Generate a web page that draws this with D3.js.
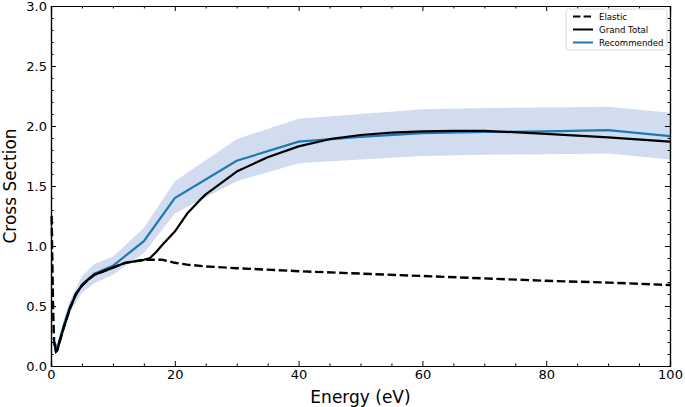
<!DOCTYPE html>
<html>
<head>
<meta charset="utf-8">
<script src="https://cdn.jsdelivr.net/npm/d3@7"></script>
<style>
  body { margin: 0; background: #fff; }
  svg { display: block; font-family: "DejaVu Sans", sans-serif; }
</style>
</head>
<body>
<svg id="chart" width="685" height="407"></svg>
<script>
// ---- Data ----
const elasticE = [0.1, 0.2, 0.35, 0.5, 0.8, 1, 2, 3, 4, 5, 6, 7, 8, 10, 12, 15, 18, 20, 22, 25, 30, 40, 50, 60, 70, 80, 90, 100];
const elasticV = [1.25, 0.9, 0.45, 0.2, 0.12, 0.13, 0.31, 0.47, 0.6, 0.67, 0.72, 0.76, 0.78, 0.82, 0.86, 0.885, 0.885, 0.86, 0.845, 0.83, 0.815, 0.79, 0.77, 0.75, 0.73, 0.71, 0.695, 0.675];

const totalE = [0.5, 0.8, 1, 2, 3, 4, 5, 6, 7, 8, 10, 12, 15, 16, 17, 18, 20, 22, 24, 25, 30, 35, 40, 45, 50, 55, 60, 65, 70, 80, 90, 100];
const totalV = [0.2, 0.12, 0.13, 0.31, 0.47, 0.6, 0.67, 0.72, 0.76, 0.78, 0.82, 0.86, 0.885, 0.9, 0.95, 1.01, 1.12, 1.27, 1.38, 1.43, 1.62, 1.74, 1.83, 1.89, 1.925, 1.945, 1.955, 1.96, 1.96, 1.935, 1.905, 1.87];

const recE = [0.5, 1, 2, 3, 5, 7, 10, 15, 20, 30, 40, 50, 60, 70, 80, 90, 100];
const recV = [0.2, 0.15, 0.33, 0.49, 0.68, 0.77, 0.835, 1.04, 1.40, 1.71, 1.87, 1.91, 1.94, 1.95, 1.955, 1.965, 1.915];
const recUpper = [0.22, 0.17, 0.36, 0.54, 0.75, 0.85, 0.91, 1.15, 1.54, 1.89, 2.06, 2.10, 2.14, 2.15, 2.155, 2.16, 2.11];
const recLower = [0.18, 0.13, 0.30, 0.44, 0.61, 0.69, 0.76, 0.94, 1.27, 1.54, 1.69, 1.72, 1.75, 1.76, 1.765, 1.77, 1.72];

const xMajorTicks = [0, 20, 40, 60, 80, 100];
const yMajorTicks = [0.0, 0.5, 1.0, 1.5, 2.0, 2.5, 3.0];
const legendLabels = ["Elastic", "Grand Total", "Recommended"];

// ---- Layout ----
const W = 685, H = 407;
const m = { left: 51, right: 15, top: 6, bottom: 41 };
const iw = W - m.left - m.right, ih = H - m.top - m.bottom;

const svg = d3.select("#chart");
const g = svg.append("g").attr("transform", `translate(${m.left},${m.top})`);

const x = d3.scaleLinear().domain([0, 100]).range([0, iw]);
const y = d3.scaleLinear().domain([0, 3]).range([ih, 0]);

svg.append("defs").append("clipPath").attr("id", "clip")
  .append("rect").attr("x", -2).attr("width", iw + 2).attr("height", ih);

const plot = g.append("g").attr("clip-path", "url(#clip)");

// band
const band = recE.map((e, i) => ({ e, lo: recLower[i], hi: recUpper[i] }));
plot.append("path").datum(band)
  .attr("fill", "#d1dcef")
  .attr("d", d3.area().x(d => x(d.e)).y0(d => y(d.lo)).y1(d => y(d.hi)));

const line = d3.line().x(d => x(d[0])).y(d => y(d[1]));

plot.append("path").datum(recE.map((e, i) => [e, recV[i]]))
  .attr("fill", "none").attr("stroke", "#1f77b4").attr("stroke-width", 2.2)
  .attr("d", line);

plot.append("path").datum(totalE.map((e, i) => [e, totalV[i]]))
  .attr("fill", "none").attr("stroke", "#000").attr("stroke-width", 2.2)
  .attr("stroke-linejoin", "round")
  .attr("d", line);

plot.append("path").datum(elasticE.map((e, i) => [e, elasticV[i]]))
  .attr("fill", "none").attr("stroke", "#000").attr("stroke-width", 2.4)
  .attr("stroke-dasharray", "8.5,3.6")
  .attr("d", line);

// ---- Axes (ticks inside, all four sides) ----
const fmtY = d3.format(".1f");
const xMinor = d3.range(0, 100.01, 5).filter(v => v % 20 !== 0);
const yMinor = d3.range(0, 30.01, 1).map(v => v / 10).filter(v => Math.round(v * 10) % 5 !== 0);

function styleAxis(sel) {
  sel.selectAll("path.domain").attr("stroke", "#000").attr("stroke-width", 1.2);
  sel.selectAll(".tick line").attr("stroke", "#000").attr("stroke-width", 1);
  sel.selectAll(".tick text").attr("font-size", 13).attr("fill", "#000")
    .attr("font-family", "DejaVu Sans, sans-serif");
}

// bottom
g.append("g").attr("transform", `translate(0,${ih})`)
  .call(d3.axisBottom(x).tickValues(xMajorTicks).tickFormat(d3.format("d")).tickSize(-5).tickPadding(4))
  .call(styleAxis);
g.append("g").attr("transform", `translate(0,${ih})`)
  .call(d3.axisBottom(x).tickValues(xMinor).tickFormat("").tickSize(-2.5).tickSizeOuter(0))
  .call(styleAxis);
// top
g.append("g")
  .call(d3.axisTop(x).tickValues(xMajorTicks).tickFormat("").tickSize(-5))
  .call(styleAxis);
g.append("g")
  .call(d3.axisTop(x).tickValues(xMinor).tickFormat("").tickSize(-2.5).tickSizeOuter(0))
  .call(styleAxis);
// left
g.append("g")
  .call(d3.axisLeft(y).tickValues(yMajorTicks).tickFormat(fmtY).tickSize(-5).tickPadding(4))
  .call(styleAxis);
g.append("g")
  .call(d3.axisLeft(y).tickValues(yMinor).tickFormat("").tickSize(-2.5).tickSizeOuter(0))
  .call(styleAxis);
// right
g.append("g").attr("transform", `translate(${iw},0)`)
  .call(d3.axisRight(y).tickValues(yMajorTicks).tickFormat("").tickSize(-5))
  .call(styleAxis);
g.append("g").attr("transform", `translate(${iw},0)`)
  .call(d3.axisRight(y).tickValues(yMinor).tickFormat("").tickSize(-2.5).tickSizeOuter(0))
  .call(styleAxis);

// axis labels
svg.append("text")
  .attr("x", m.left + iw / 2).attr("y", 403)
  .attr("text-anchor", "middle").attr("font-size", 17).attr("fill", "#000")
  .text("Energy (eV)");
svg.append("text")
  .attr("transform", `translate(16,${m.top + ih / 2}) rotate(-90)`)
  .attr("text-anchor", "middle").attr("font-size", 17).attr("fill", "#000")
  .text("Cross Section");

// ---- Legend ----
const lg = svg.append("g").attr("transform", "translate(566,9)");
lg.append("rect").attr("width", 101).attr("height", 41).attr("rx", 2.5)
  .attr("fill", "#fff").attr("fill-opacity", 0.8)
  .attr("stroke", "#d0d0d0").attr("stroke-width", 0.8);
const legendStyles = [
  { color: "#000", dash: "7.4,3.2" },
  { color: "#000", dash: null },
  { color: "#1f77b4", dash: null }
];
legendLabels.forEach((lab, i) => {
  const yy = 7.5 + i * 13;
  lg.append("line").attr("x1", 7).attr("x2", 27).attr("y1", yy).attr("y2", yy)
    .attr("stroke", legendStyles[i].color).attr("stroke-width", 2)
    .attr("stroke-dasharray", legendStyles[i].dash);
  lg.append("text").attr("x", 33).attr("y", yy).attr("dy", "0.35em")
    .attr("font-size", 8.6).attr("fill", "#000").text(lab);
});
</script>
</body>
</html>
